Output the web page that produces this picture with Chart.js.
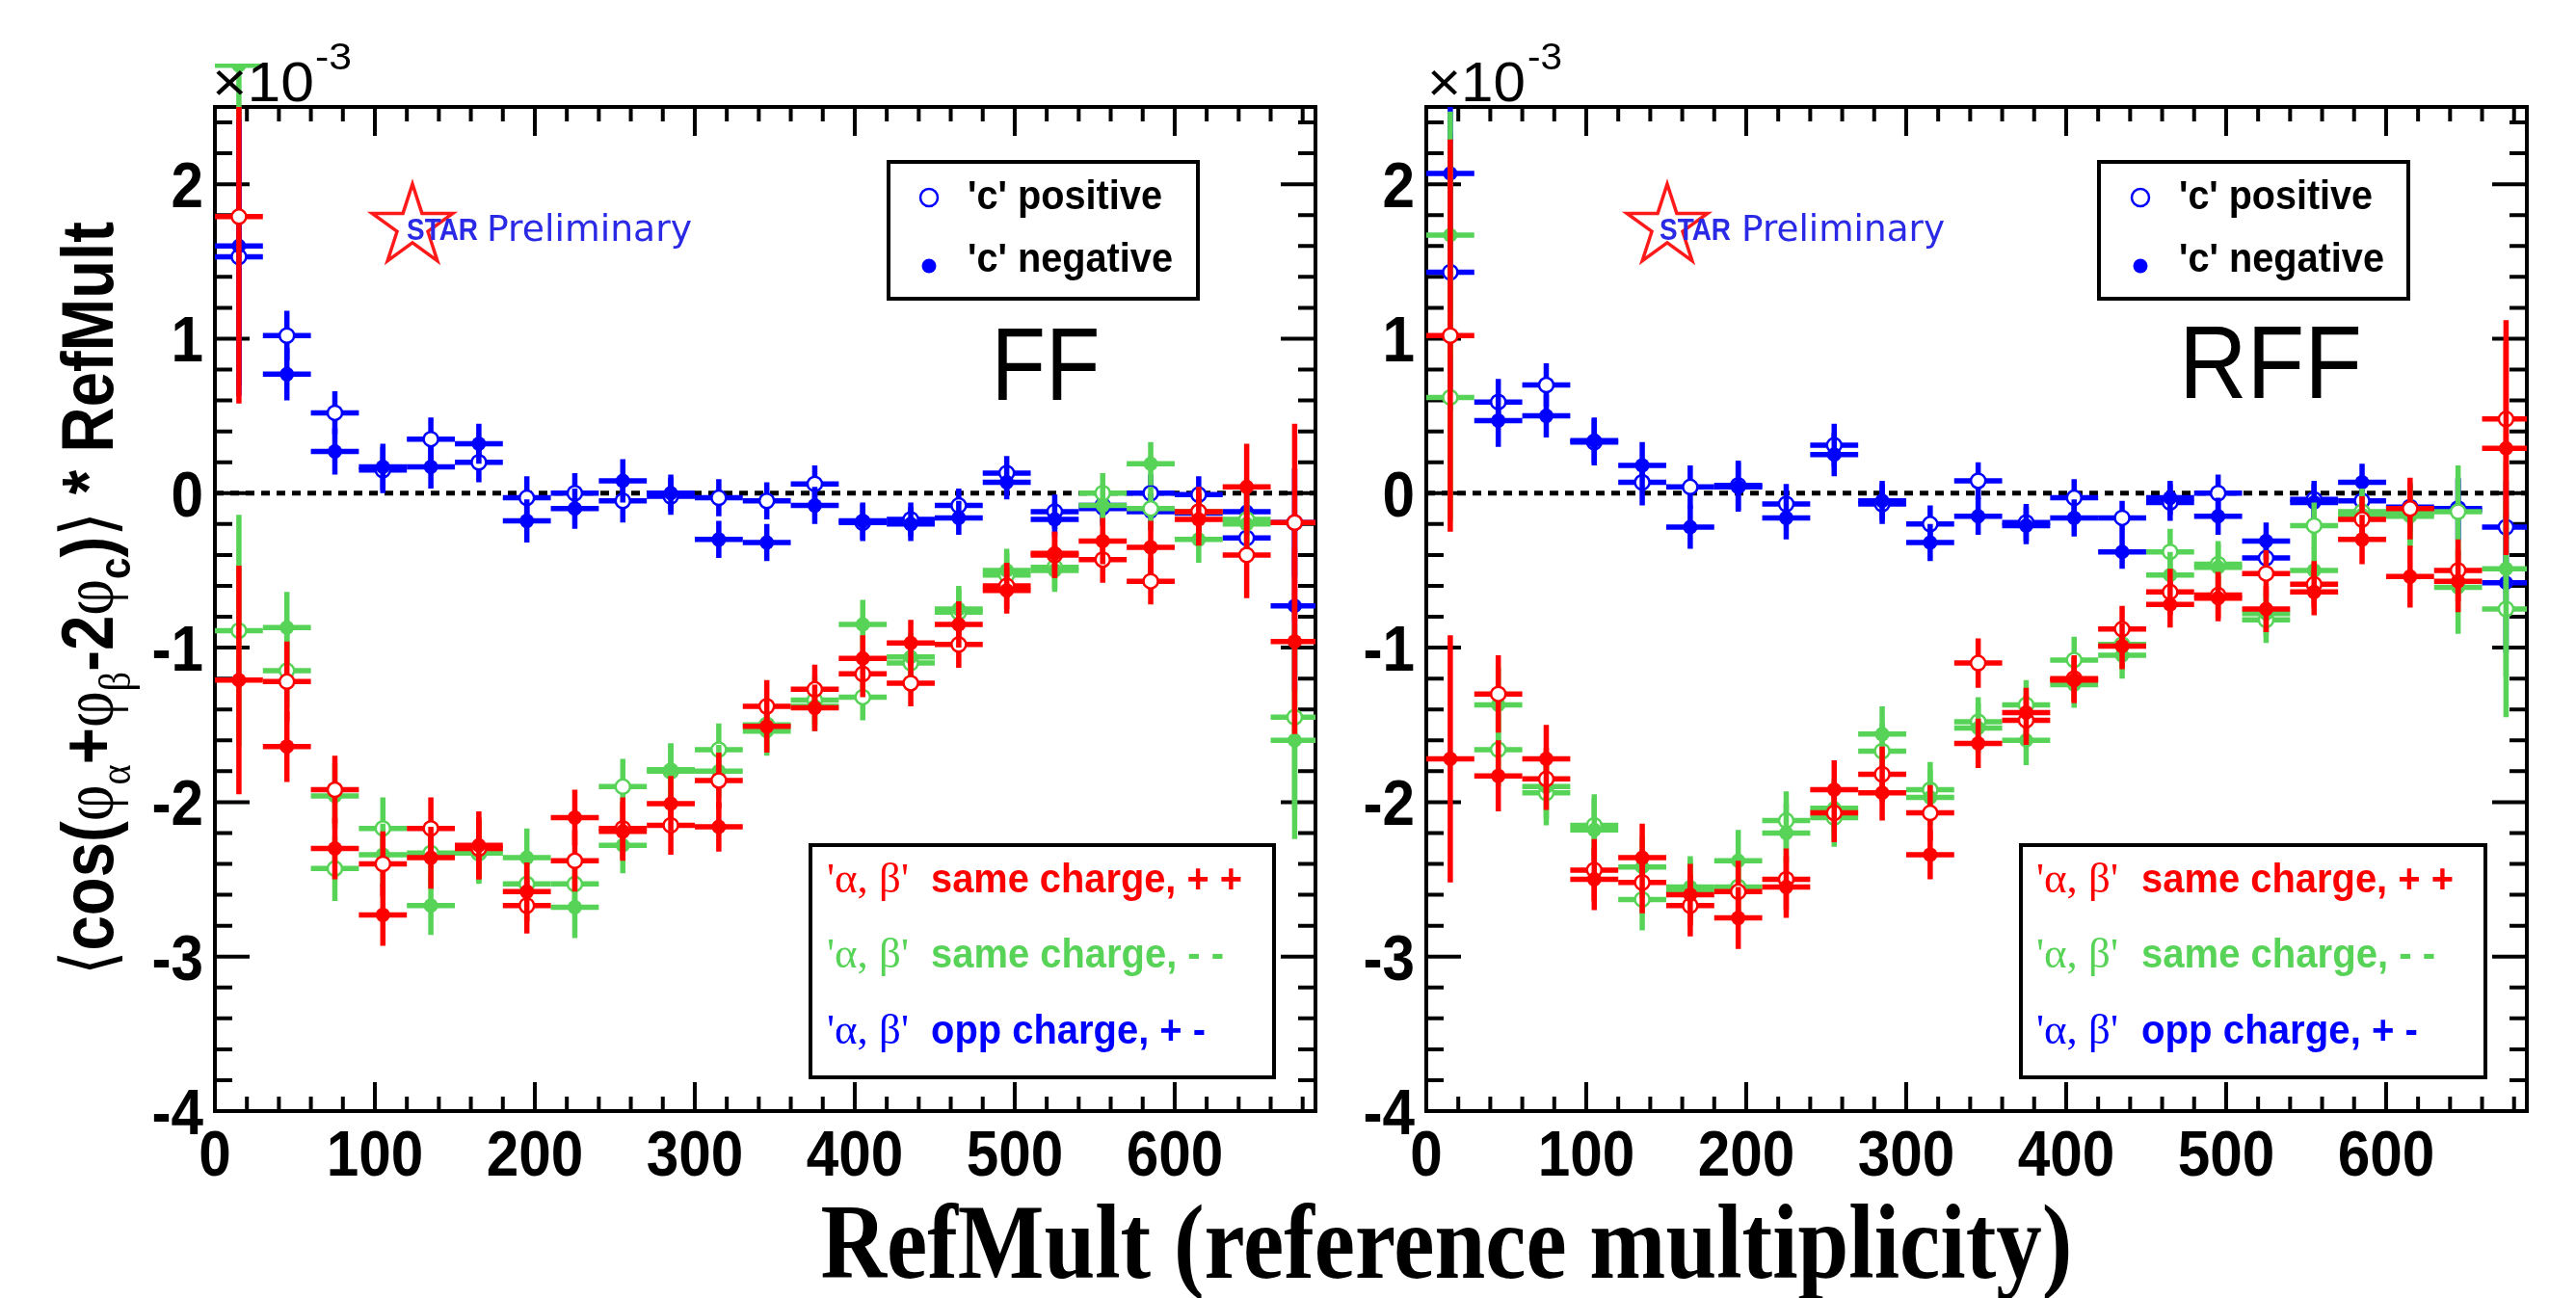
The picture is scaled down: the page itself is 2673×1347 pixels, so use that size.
<!DOCTYPE html>
<html><head><meta charset="utf-8">
<script src="https://cdn.jsdelivr.net/npm/chart.js@4.4.0/dist/chart.umd.min.js"></script>
<style>
html,body{margin:0;padding:0;background:#fff;width:2673px;height:1347px;overflow:hidden;}
canvas{position:absolute;top:0;}
#c1{left:0;} #c2{left:1380px;}
#xtitle{position:absolute;left:1501px;top:1234px;font:bold 110px "Liberation Serif","Times New Roman",serif;line-height:110px;white-space:nowrap;transform-origin:0 0;color:#000;}
</style></head><body>
<canvas id="c1" width="1380" height="1347"></canvas>
<canvas id="c2" width="1293" height="1347"></canvas>
<div id="xtitle">RefMult (reference multiplicity)</div>
<script>
// ---------------- data ----------------
const refMult = [15,45,75,105,135,165,195,225,255,285,315,345,375,405,435,465,495,525,555,585,615,645,675];
const binHalfWidth = 15;
const xTicks = [0,100,200,300,400,500,600];
const yTicks = [-4,-3,-2,-1,0,1,2];

// FF panel
const ffOppPos    = [1.53,1.02,0.52,0.15,0.35,0.20,-0.03,0.00,-0.05,-0.02,-0.03,-0.05,0.06,-0.19,-0.17,-0.08,0.13,-0.12,-0.08,0.00,-0.01,-0.29,-0.19];
const ffOppNeg    = [1.60,0.77,0.27,0.17,0.17,0.32,-0.18,-0.10,0.08,0.00,-0.30,-0.32,-0.08,-0.18,-0.20,-0.16,0.07,-0.17,-0.10,-0.12,-0.13,-0.12,-0.73];
const ffOppPosErr = [0.90,0.16,0.14,0.15,0.14,0.13,0.14,0.13,0.14,0.12,0.12,0.12,0.12,0.12,0.11,0.11,0.11,0.11,0.11,0.12,0.12,0.15,0.35];
const ffOppNegErr = [0.90,0.17,0.15,0.15,0.14,0.13,0.14,0.13,0.14,0.12,0.12,0.12,0.12,0.12,0.11,0.11,0.11,0.11,0.11,0.12,0.12,0.15,0.55];
const ffPPPos     = [1.79,-1.22,-1.92,-2.40,-2.17,-2.30,-2.67,-2.38,-2.17,-2.15,-1.86,-1.38,-1.27,-1.17,-1.23,-0.98,-0.60,-0.40,-0.43,-0.57,-0.12,-0.40,-0.19];
const ffPPNeg     = [-1.21,-1.64,-2.30,-2.73,-2.36,-2.28,-2.58,-2.10,-2.19,-2.01,-2.16,-1.51,-1.39,-1.07,-0.97,-0.85,-0.63,-0.39,-0.31,-0.35,-0.17,0.04,-0.96];
const ffPPPosErr  = [1.21,0.26,0.22,0.21,0.20,0.20,0.18,0.20,0.20,0.19,0.18,0.17,0.16,0.15,0.15,0.15,0.15,0.15,0.15,0.15,0.16,0.28,0.64];
const ffPPNegErr  = [0.74,0.23,0.20,0.20,0.20,0.22,0.19,0.18,0.19,0.18,0.16,0.17,0.15,0.15,0.15,0.15,0.15,0.14,0.15,0.17,0.17,0.28,0.60];
const ffMMPos     = [-0.89,-1.15,-2.43,-2.17,-2.33,-2.33,-2.53,-2.53,-1.90,-1.80,-1.66,-1.50,-1.34,-1.32,-1.10,-0.77,-0.53,-0.48,0.00,-0.10,-0.12,-0.17,-1.45];
const ffMMNeg     = [2.77,-0.87,-1.96,-2.34,-2.67,-2.32,-2.36,-2.68,-2.28,-1.79,-1.80,-1.54,-1.38,-0.85,-1.06,-0.75,-0.50,-0.50,-0.08,0.19,-0.30,-0.20,-1.60];
const ffMMPosErr  = [0.75,0.24,0.21,0.20,0.20,0.20,0.19,0.19,0.18,0.18,0.17,0.16,0.16,0.15,0.15,0.15,0.14,0.14,0.13,0.14,0.15,0.18,0.60];
const ffMMNegErr  = [0.35,0.23,0.21,0.20,0.19,0.20,0.19,0.20,0.18,0.17,0.17,0.16,0.16,0.16,0.15,0.15,0.14,0.14,0.13,0.14,0.15,0.18,0.64];

// RFF panel
const rffOppPos    = [1.43,0.59,0.70,0.33,0.07,0.04,0.05,-0.07,0.31,-0.07,-0.20,0.08,-0.19,-0.03,-0.16,-0.06,0.00,-0.42,-0.04,-0.05,-0.09,-0.10,-0.22];
const rffOppNeg    = [2.07,0.47,0.50,0.34,0.18,-0.22,0.04,-0.16,0.25,-0.05,-0.32,-0.15,-0.21,-0.16,-0.38,-0.03,-0.15,-0.31,-0.06,0.07,-0.10,-0.11,-0.58];
const rffOppPosErr = [0.90,0.15,0.14,0.15,0.15,0.14,0.16,0.13,0.14,0.13,0.12,0.12,0.12,0.12,0.11,0.12,0.12,0.12,0.12,0.12,0.15,0.20,0.30];
const rffOppNegErr = [0.90,0.17,0.14,0.15,0.15,0.14,0.16,0.14,0.14,0.13,0.12,0.12,0.12,0.12,0.11,0.11,0.12,0.12,0.12,0.12,0.15,0.20,0.45];
const rffPPPos     = [1.02,-1.30,-1.85,-2.44,-2.52,-2.67,-2.58,-2.50,-2.07,-1.82,-2.07,-1.10,-1.47,-1.20,-0.88,-0.64,-0.66,-0.52,-0.59,-0.17,-0.10,-0.50,0.48];
const rffPPNeg     = [-1.72,-1.83,-1.72,-2.50,-2.36,-2.60,-2.75,-2.55,-1.92,-1.94,-2.34,-1.62,-1.42,-1.21,-0.99,-0.72,-0.68,-0.75,-0.64,-0.30,-0.54,-0.57,0.29];
const rffPPPosErr  = [1.27,0.25,0.20,0.20,0.20,0.20,0.20,0.20,0.19,0.18,0.18,0.16,0.16,0.15,0.15,0.15,0.15,0.15,0.15,0.15,0.20,0.20,0.64];
const rffPPNegErr  = [0.80,0.23,0.22,0.20,0.22,0.20,0.20,0.20,0.19,0.18,0.16,0.16,0.16,0.15,0.15,0.15,0.15,0.15,0.15,0.16,0.20,0.20,0.69];
const rffMMPos     = [0.62,-1.66,-1.94,-2.15,-2.63,-2.57,-2.55,-2.12,-2.10,-1.67,-1.92,-1.48,-1.37,-1.08,-0.98,-0.38,-0.46,-0.82,-0.21,-0.12,-0.13,-0.12,-0.75];
const rffMMNeg     = [1.67,-1.37,-1.90,-2.18,-2.42,-2.55,-2.38,-2.20,-2.04,-1.56,-1.97,-1.52,-1.60,-1.24,-1.05,-0.53,-0.48,-0.78,-0.50,-0.14,-0.15,-0.61,-0.49];
const rffMMPosErr  = [0.80,0.24,0.21,0.20,0.20,0.20,0.19,0.19,0.19,0.18,0.18,0.16,0.16,0.15,0.15,0.15,0.15,0.15,0.15,0.15,0.20,0.30,0.70];
const rffMMNegErr  = [0.80,0.24,0.21,0.20,0.20,0.20,0.20,0.19,0.19,0.18,0.18,0.16,0.16,0.15,0.15,0.15,0.15,0.15,0.15,0.15,0.20,0.30,0.70];

// ---------------- styling ----------------
const RED = '#ff0000', GREEN = '#57d357', BLUE = '#0000ff';
const SANS = '"Liberation Sans", Arial, Helvetica, sans-serif';
const SERIF = '"Liberation Serif", "Times New Roman", serif';

function pts(vals, errs){
  return vals.map((v,i)=>({x: refMult[i], y: v, ex: binHalfWidth, ey: errs[i]}));
}
function ds(label, vals, errs, color, open, order, noClip){
  return {
    label, data: pts(vals, errs), order, seriesColor: color, open: !!open, noClip: !!noClip,
    pointStyle:'circle',
    pointRadius: open ? 7.5 : 7.5,
    pointHoverRadius: 7.5,
    pointBackgroundColor: open ? '#ffffff' : color,
    pointBorderColor: color,
    pointBorderWidth: open ? 2.5 : 0,
    showLine:false
  };
}

function drawMarker(ctx, x, y, color, open){
  ctx.beginPath();
  ctx.arc(x, y, 7.5, 0, Math.PI*2);
  if(open){ ctx.fillStyle='#fff'; ctx.fill(); ctx.lineWidth=2.5; ctx.strokeStyle=color; ctx.stroke(); }
  else { ctx.fillStyle=color; ctx.fill(); }
}

const errorBars = {
  id:'errorBars',
  beforeDatasetDraw(chart, args){
    const d = chart.data.datasets[args.index];
    const xs = chart.scales.x, ys = chart.scales.y, ctx = chart.ctx, a = chart.chartArea;
    ctx.save();
    ctx.beginPath();
    const top = d.noClip ? a.top - 45 : a.top;
    ctx.rect(a.left, top, a.right - a.left, a.bottom - top);
    ctx.clip();
    ctx.strokeStyle = d.seriesColor; ctx.lineWidth = 5.5; ctx.lineCap = 'butt';
    d.data.forEach(p=>{
      const px = xs.getPixelForValue(p.x), py = ys.getPixelForValue(p.y);
      ctx.beginPath();
      ctx.moveTo(xs.getPixelForValue(p.x - p.ex), py);
      ctx.lineTo(xs.getPixelForValue(p.x + p.ex), py);
      ctx.moveTo(px, ys.getPixelForValue(p.y - p.ey));
      ctx.lineTo(px, ys.getPixelForValue(p.y + p.ey));
      ctx.stroke();
      if (d.noClip && (py < a.top || py > a.bottom)) drawMarker(ctx, px, py, d.seriesColor, d.open);
    });
    ctx.restore();
  }
};

function fitText(ctx, text, x, y, width, font, color, align){
  ctx.save();
  ctx.font = font; ctx.fillStyle = color; ctx.textBaseline = 'alphabetic'; ctx.textAlign = 'left';
  const w = ctx.measureText(text).width;
  const k = width / w;
  let x0 = x;
  if (align === 'right') x0 = x - width;
  if (align === 'center') x0 = x - width/2;
  ctx.translate(x0, y); ctx.scale(k, 1); ctx.fillText(text, 0, 0);
  ctx.restore();
}

const LABEL_FONT = `bold 66px ${SANS}`;
const rootFrame = {
  id:'rootFrame',
  beforeDatasetsDraw(chart){
    const ctx = chart.ctx, a = chart.chartArea, x = chart.scales.x, y = chart.scales.y;
    ctx.save();
    ctx.strokeStyle = '#000';
    const y0 = y.getPixelForValue(0);
    ctx.lineWidth = 5; ctx.setLineDash([9,7]);
    ctx.beginPath(); ctx.moveTo(a.left, y0); ctx.lineTo(a.right, y0); ctx.stroke();
    ctx.setLineDash([]);
    ctx.lineWidth = 4;
    ctx.beginPath();
    for (let v = 20; v < x.max; v += 20){
      const px = x.getPixelForValue(v), len = (v % 100 === 0) ? 30 : 15;
      ctx.moveTo(px, a.bottom); ctx.lineTo(px, a.bottom - len);
      ctx.moveTo(px, a.top); ctx.lineTo(px, a.top + len);
    }
    for (let k = -19; k <= 12; k++){
      const py = y.getPixelForValue(k/5), len = (k % 5 === 0) ? 36 : 18;
      ctx.moveTo(a.left, py); ctx.lineTo(a.left + len, py);
      ctx.moveTo(a.right, py); ctx.lineTo(a.right - len, py);
    }
    ctx.stroke();
    ctx.strokeRect(a.left, a.top, a.right - a.left, a.bottom - a.top);
    // tick labels (condensed bold, ROOT style)
    ctx.font = LABEL_FONT;
    const digitW = 33.5;
    xTicks.forEach(v=>{
      const s = String(v);
      fitText(ctx, s, x.getPixelForValue(v), a.bottom + 67, digitW * s.length, LABEL_FONT, '#000', 'center');
    });
    yTicks.forEach(v=>{
      const s = String(v);
      const w = (s[0] === '-' ? 20 : 0) + digitW;
      fitText(ctx, s, a.left - 12, y.getPixelForValue(v) + 24, w, LABEL_FONT, '#000', 'right');
    });
    ctx.restore();
  }
};

function drawStar(ctx, cx, cy, R){
  const r = R * 0.382;
  ctx.beginPath();
  for (let i = 0; i < 10; i++){
    const ang = -Math.PI/2 + i*Math.PI/5, rr = (i % 2) ? r : R;
    ctx.lineTo(cx + rr*Math.cos(ang), cy + rr*Math.sin(ang));
  }
  ctx.closePath();
  ctx.strokeStyle = '#ff1a1a'; ctx.lineWidth = 3.5; ctx.lineJoin = 'miter'; ctx.stroke();
}

function drawYTitle(ctx){
  const S = 76;
  const F = {
    b: `bold ${S}px ${SANS}`,
    g: `${S}px ${SERIF}`,
    a: `${S}px "DejaVu Sans", ${SANS}`,
    s: `${Math.round(S*0.62)}px ${SERIF}`,
    sb: `bold ${Math.round(S*0.62)}px ${SANS}`
  };
  const segs = [['⟨','a',0],['cos(','b',0],['φ','g',0],['α','s',1],['+','b',0],['φ','g',0],['β','s',1],['-2','b',0],['φ','g',0],['c','sb',1],[')','b',0],['⟩','a',0],[' * RefMult','b',0]];
  let total = 0;
  segs.forEach(s=>{ ctx.font = F[s[1]]; s.push(ctx.measureText(s[0]).width); total += s[3]; });
  ctx.save();
  ctx.translate(117, 621); ctx.rotate(-Math.PI/2); ctx.scale(782/total, 1);
  ctx.fillStyle = '#000'; ctx.textBaseline = 'alphabetic'; ctx.textAlign = 'left';
  let x = -total/2;
  segs.forEach(s=>{ ctx.font = F[s[1]]; ctx.fillText(s[0], x, s[2] ? S*0.24 : 0); x += s[3]; });
  ctx.restore();
}

function makeDecor(c){
  return {
    id:'decor',
    afterDraw(chart){
      const ctx = chart.ctx, o = c.offset;
      ctx.save();
      // x10^-3
      fitText(ctx, '×10', c.expX - o, 105, c.expW, `58px ${SANS}`, '#000');
      fitText(ctx, '-3', c.supX - o, 72, c.supW, `38px ${SANS}`, '#000');
      // STAR Preliminary
      drawStar(ctx, c.starX - o, 235, 44);
      fitText(ctx, 'STAR', c.starTxtX - o, 249, 74, `bold 32px ${SANS}`, '#2a2ae6');
      fitText(ctx, 'Preliminary', c.prelimX - o, 250, c.prelimW, `37px "DejaVu Sans", ${SANS}`, '#2a2ae6');
      // legend 1
      let b = c.leg1;
      ctx.fillStyle = '#fff'; ctx.fillRect(b[0]-o, b[1], b[2]-b[0], b[3]-b[1]);
      ctx.lineWidth = 4; ctx.strokeStyle = '#000'; ctx.strokeRect(b[0]-o, b[1], b[2]-b[0], b[3]-b[1]);
      ctx.beginPath(); ctx.arc(c.mkX - o, 205, 9, 0, Math.PI*2); ctx.lineWidth = 2.5; ctx.strokeStyle = BLUE; ctx.stroke();
      ctx.beginPath(); ctx.arc(c.mkX - o, 276, 7.5, 0, Math.PI*2); ctx.fillStyle = BLUE; ctx.fill();
      fitText(ctx, "'c' positive", c.legTxtX - o, 217, c.posW, `bold 42px ${SANS}`, '#000');
      fitText(ctx, "'c' negative", c.legTxtX - o, 282, c.negW, `bold 42px ${SANS}`, '#000');
      // panel name
      fitText(ctx, c.name, c.nameX - o - c.nameW/2, c.nameY, c.nameW, `108px ${SANS}`, '#000');
      // legend 2
      b = c.leg2;
      ctx.fillStyle = '#fff'; ctx.fillRect(b[0]-o, b[1], b[2]-b[0], b[3]-b[1]);
      ctx.lineWidth = 4; ctx.strokeStyle = '#000'; ctx.strokeRect(b[0]-o, b[1], b[2]-b[0], b[3]-b[1]);
      const lines = [["same charge, + +", RED, 926],["same charge, - -", GREEN, 1004],["opp charge, + -", BLUE, 1083]];
      lines.forEach((L,i)=>{
        fitText(ctx, "'α, β'", c.grX - o, L[2], 85, `44px ${SERIF}`, L[1]);
        fitText(ctx, L[0], c.mainX - o, L[2], c.mainW[i], `bold 42px ${SANS}`, L[1]);
      });
      if (c.yTitle) drawYTitle(ctx);
      ctx.restore();
    }
  };
}

function makeChart(id, sets, yAxisWidth, padRight, decor){
  const order = [
    ds("'α, β' same charge, + + / 'c' negative", sets.ppN, sets.ppNE, RED, false, 0),
    ds("'α, β' same charge, + + / 'c' positive", sets.ppP, sets.ppPE, RED, true, 1),
    ds("'α, β' same charge, - - / 'c' negative", sets.mmN, sets.mmNE, GREEN, false, 2, sets.greenNoClip),
    ds("'α, β' same charge, - - / 'c' positive", sets.mmP, sets.mmPE, GREEN, true, 3),
    ds("'α, β' opp charge, + - / 'c' negative", sets.opN, sets.opNE, BLUE, false, 4),
    ds("'α, β' opp charge, + - / 'c' positive", sets.opP, sets.opPE, BLUE, true, 5)
  ];
  return new Chart(document.getElementById(id), {
    type:'scatter',
    data:{datasets: order},
    options:{
      responsive:false, animation:false, devicePixelRatio:1, events:[],
      layout:{padding:{top:111, right:padRight, bottom:0, left:0}},
      plugins:{legend:{display:false}, tooltip:{enabled:false}},
      scales:{
        x:{type:'linear', min:0, max:688,
           afterFit(s){ s.height = 194; },
           afterBuildTicks(s){ s.ticks = xTicks.map(v=>({value:v})); },
           grid:{display:false, drawTicks:false}, border:{display:false},
           ticks:{display:false}},
        y:{type:'linear', min:-4, max:2.5,
           afterFit(s){ s.width = yAxisWidth; },
           afterBuildTicks(s){ s.ticks = yTicks.map(v=>({value:v})); },
           grid:{display:false, drawTicks:false}, border:{display:false},
           ticks:{display:false}}
      }
    },
    plugins:[rootFrame, errorBars, makeDecor(decor)]
  });
}

makeChart('c1', {
  opP: ffOppPos, opPE: ffOppPosErr, opN: ffOppNeg, opNE: ffOppNegErr,
  ppP: ffPPPos, ppPE: ffPPPosErr, ppN: ffPPNeg, ppNE: ffPPNegErr,
  mmP: ffMMPos, mmPE: ffMMPosErr, mmN: ffMMNeg, mmNE: ffMMNegErr, greenNoClip: true
}, 223, 15, {
  offset:0, name:'FF', nameX:1085, nameY:415, nameW:113,
  expX:220, expW:106, supX:327, supW:38,
  starX:428, starTxtX:422, prelimX:505, prelimW:213,
  leg1:[922,168,1243,310], mkX:964, legTxtX:1004, posW:202, negW:213,
  leg2:[841,877,1322,1118], grX:858, mainX:966, mainW:[323,304,285], yTitle:true
});

makeChart('c2', {
  opP: rffOppPos, opPE: rffOppPosErr, opN: rffOppNeg, opNE: rffOppNegErr,
  ppP: rffPPPos, ppPE: rffPPPosErr, ppN: rffPPNeg, ppNE: rffPPNegErr,
  mmP: rffMMPos, mmPE: rffMMPosErr, mmN: rffMMNeg, mmNE: rffMMNegErr, greenNoClip: false
}, 100, 51, {
  offset:1380, name:'RFF', nameX:2356, nameY:413, nameW:190,
  expX:1481, expW:102, supX:1585, supW:36,
  starX:1730, starTxtX:1722, prelimX:1807, prelimW:211,
  leg1:[2178,168,2499,310], mkX:2221, legTxtX:2261, posW:201, negW:213,
  leg2:[2097,877,2579,1118], grX:2113, mainX:2222, mainW:[324,305,287], yTitle:false
});

(function(){
  const el = document.getElementById('xtitle');
  const w = el.offsetWidth;
  el.style.transform = `translateX(${-1299/2}px) scaleX(${1299/w})`;
})();
</script>
</body></html>
